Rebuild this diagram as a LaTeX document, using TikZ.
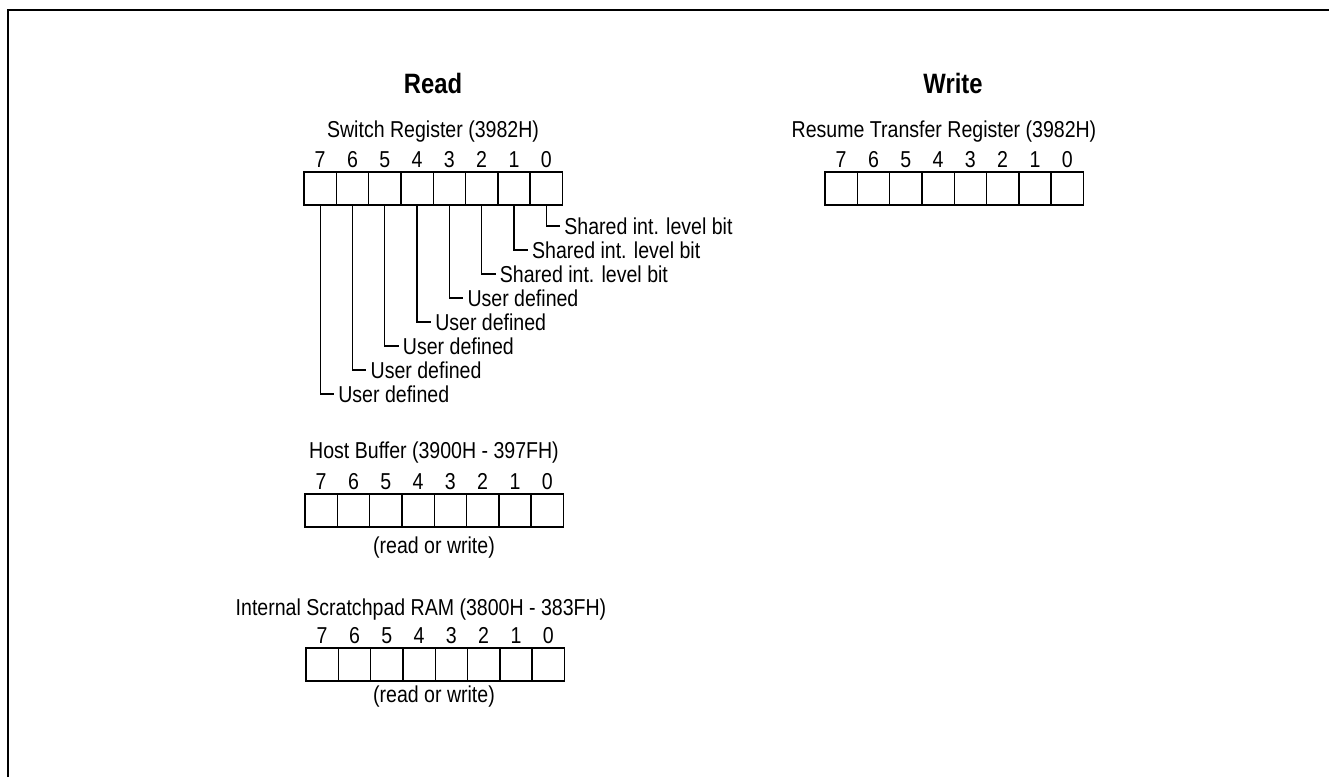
\documentclass[tikz,border=0pt]{standalone}
\usepackage{fontspec}
\setmainfont{Liberation Sans}[FakeStretch=0.85]
\newcommand\regrow[3]{%
  \foreach \i in {0,...,7} {
    \node[cell] (#1\i) at ({#2+(7-\i)*32.3},#3) {};
    \node[bitnum] (#1n\i) at ([yshift=5pt]#1\i.north) {\i};
  }}
\begin{document}
\begin{tikzpicture}[x=1pt,y=-1pt,
  cell/.style={draw,line width=1.4pt,minimum width=32.3pt,minimum height=33pt,inner sep=0pt,outer sep=0pt,anchor=north west},
  txt/.style={font=\fontsize{23}{23}\selectfont,inner sep=0pt},
  bitnum/.style={txt,anchor=base},
  lbl/.style={font=\fontsize{23}{23}\selectfont,anchor=west,inner xsep=4pt,inner ysep=0pt},
  head/.style={font=\fontsize{28}{28}\selectfont\bfseries,inner sep=0pt},
  lead/.style={line width=1.3pt}]
\useasboundingbox (0,0) rectangle (1329,777);
\draw[line width=2pt] (8,777) -- (8,10) -- (1329,10);

% headings
\node[head] (hread) at (433,83) {Read};
\node[head] (hwrite) at (953,83) {Write};

% Switch register
\node[txt] (tsw) at (433,132) {Switch Register (3982H)};
\regrow{sw}{304}{172}
\foreach \i/\t in {0/Shared int. level bit,1/Shared int. level bit,2/Shared int. level bit,3/User defined,4/User defined,5/User defined,6/User defined,7/User defined} {
  \node[lbl] (sl\i) at ({304+(7-\i)*32.3+16.15+14},{226+24*\i}) {\t};
  \draw[lead] (sw\i.south) |- (sl\i.west);
}

% Resume transfer register
\node[txt] (twr) at (944,132) {Resume Transfer Register (3982H)};
\regrow{wr}{825}{172}

% Host buffer
\node[txt] (thb) at (434,453) {Host Buffer (3900H - 397FH)};
\regrow{hb}{305}{494}
\node[txt] (rwhb) at (434,548) {(read or write)};

% Scratchpad
\node[txt] (tsp) at (421,610) {Internal Scratchpad RAM (3800H - 383FH)};
\regrow{sp}{306}{648}
\node[txt] (rwsp) at (434,697) {(read or write)};
\end{tikzpicture}
\end{document}
